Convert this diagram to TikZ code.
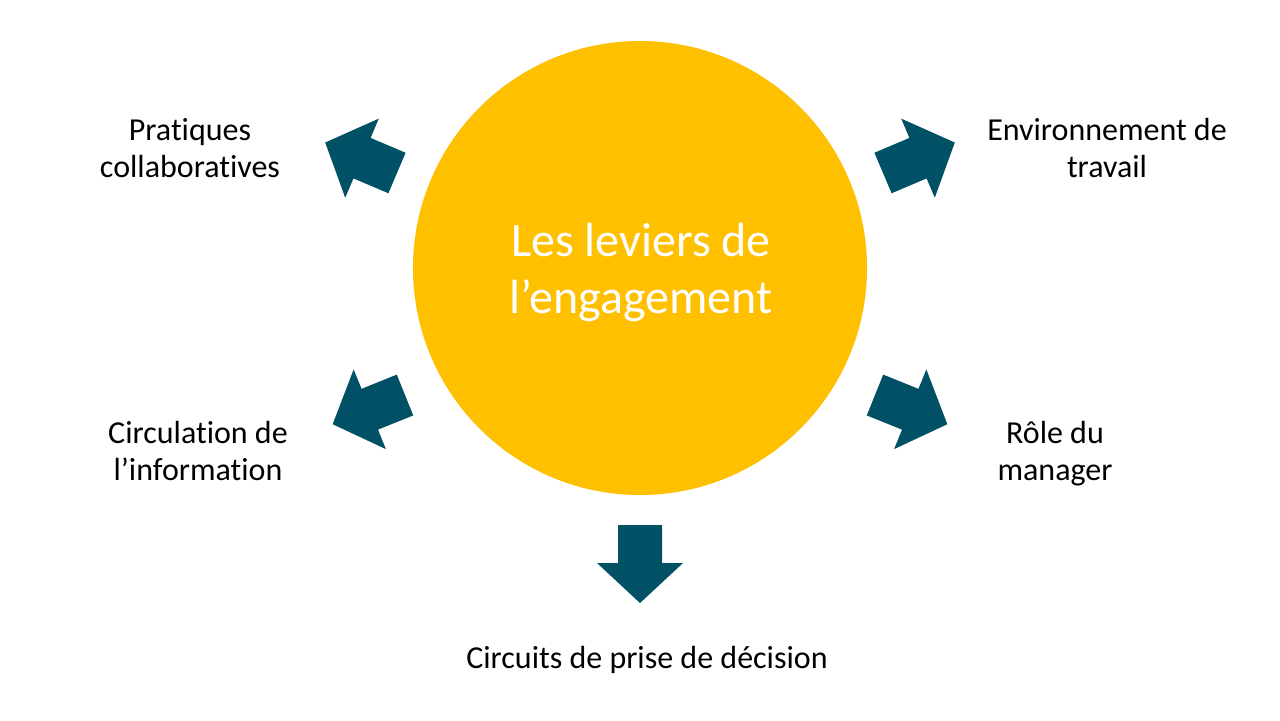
\documentclass[tikz,border=0pt]{standalone}
\usepackage{fontspec}
\setmainfont{Carlito}[Ligatures=NoCommon]
\definecolor{levgold}{HTML}{FFC000}
\definecolor{levteal}{RGB}{0,81,102}
\tikzset{
  lbl/.style={align=center, anchor=base, text=black,
    font=\fontsize{16pt}{18.5pt}\selectfont, inner sep=0pt},
  hubtxt/.style={align=center, anchor=base, text=white,
    font=\fontsize{24pt}{28.5pt}\selectfont, inner sep=0pt},
  levarrow/.style={fill=levteal, draw=none}
}
\newcommand{\levarrow}[3]{%
  \begin{scope}[shift={(#1,#2)}, rotate=#3]
    \fill[levarrow] (0,-22) -- (38,-22) -- (38,-43) -- (78,0) -- (38,43) -- (38,22) -- (0,22) -- cycle;
  \end{scope}}
\begin{document}
\begin{tikzpicture}[x=0.5pt, y=-0.5pt]
\useasboundingbox (0,0) rectangle (1280,720);
\fill[white] (0,0) rectangle (1280,720);
\node[circle, fill=levgold, minimum size=227pt, inner sep=0pt] (hub) at (640,268) {};
\node[hubtxt] (hubtext) at (641,313) {Les leviers de\\l’engagement};
\levarrow{397}{173}{157}
\levarrow{883}{173}{23}
\levarrow{405}{395}{202}
\levarrow{875}{395}{-22}
\levarrow{640}{525}{-90}
\node[lbl] (pratiques) at (190,177) {Pratiques\\collaboratives};
\node[lbl] (environ) at (1107,177) {Environnement de\\travail};
\node[lbl] (circul) at (198,480) {Circulation de\\l’information};
\node[lbl] (role) at (1055,480) {Rôle du\\manager};
\node[lbl] (circuits) at (647,668) {Circuits de prise de décision};
\end{tikzpicture}
\end{document}
